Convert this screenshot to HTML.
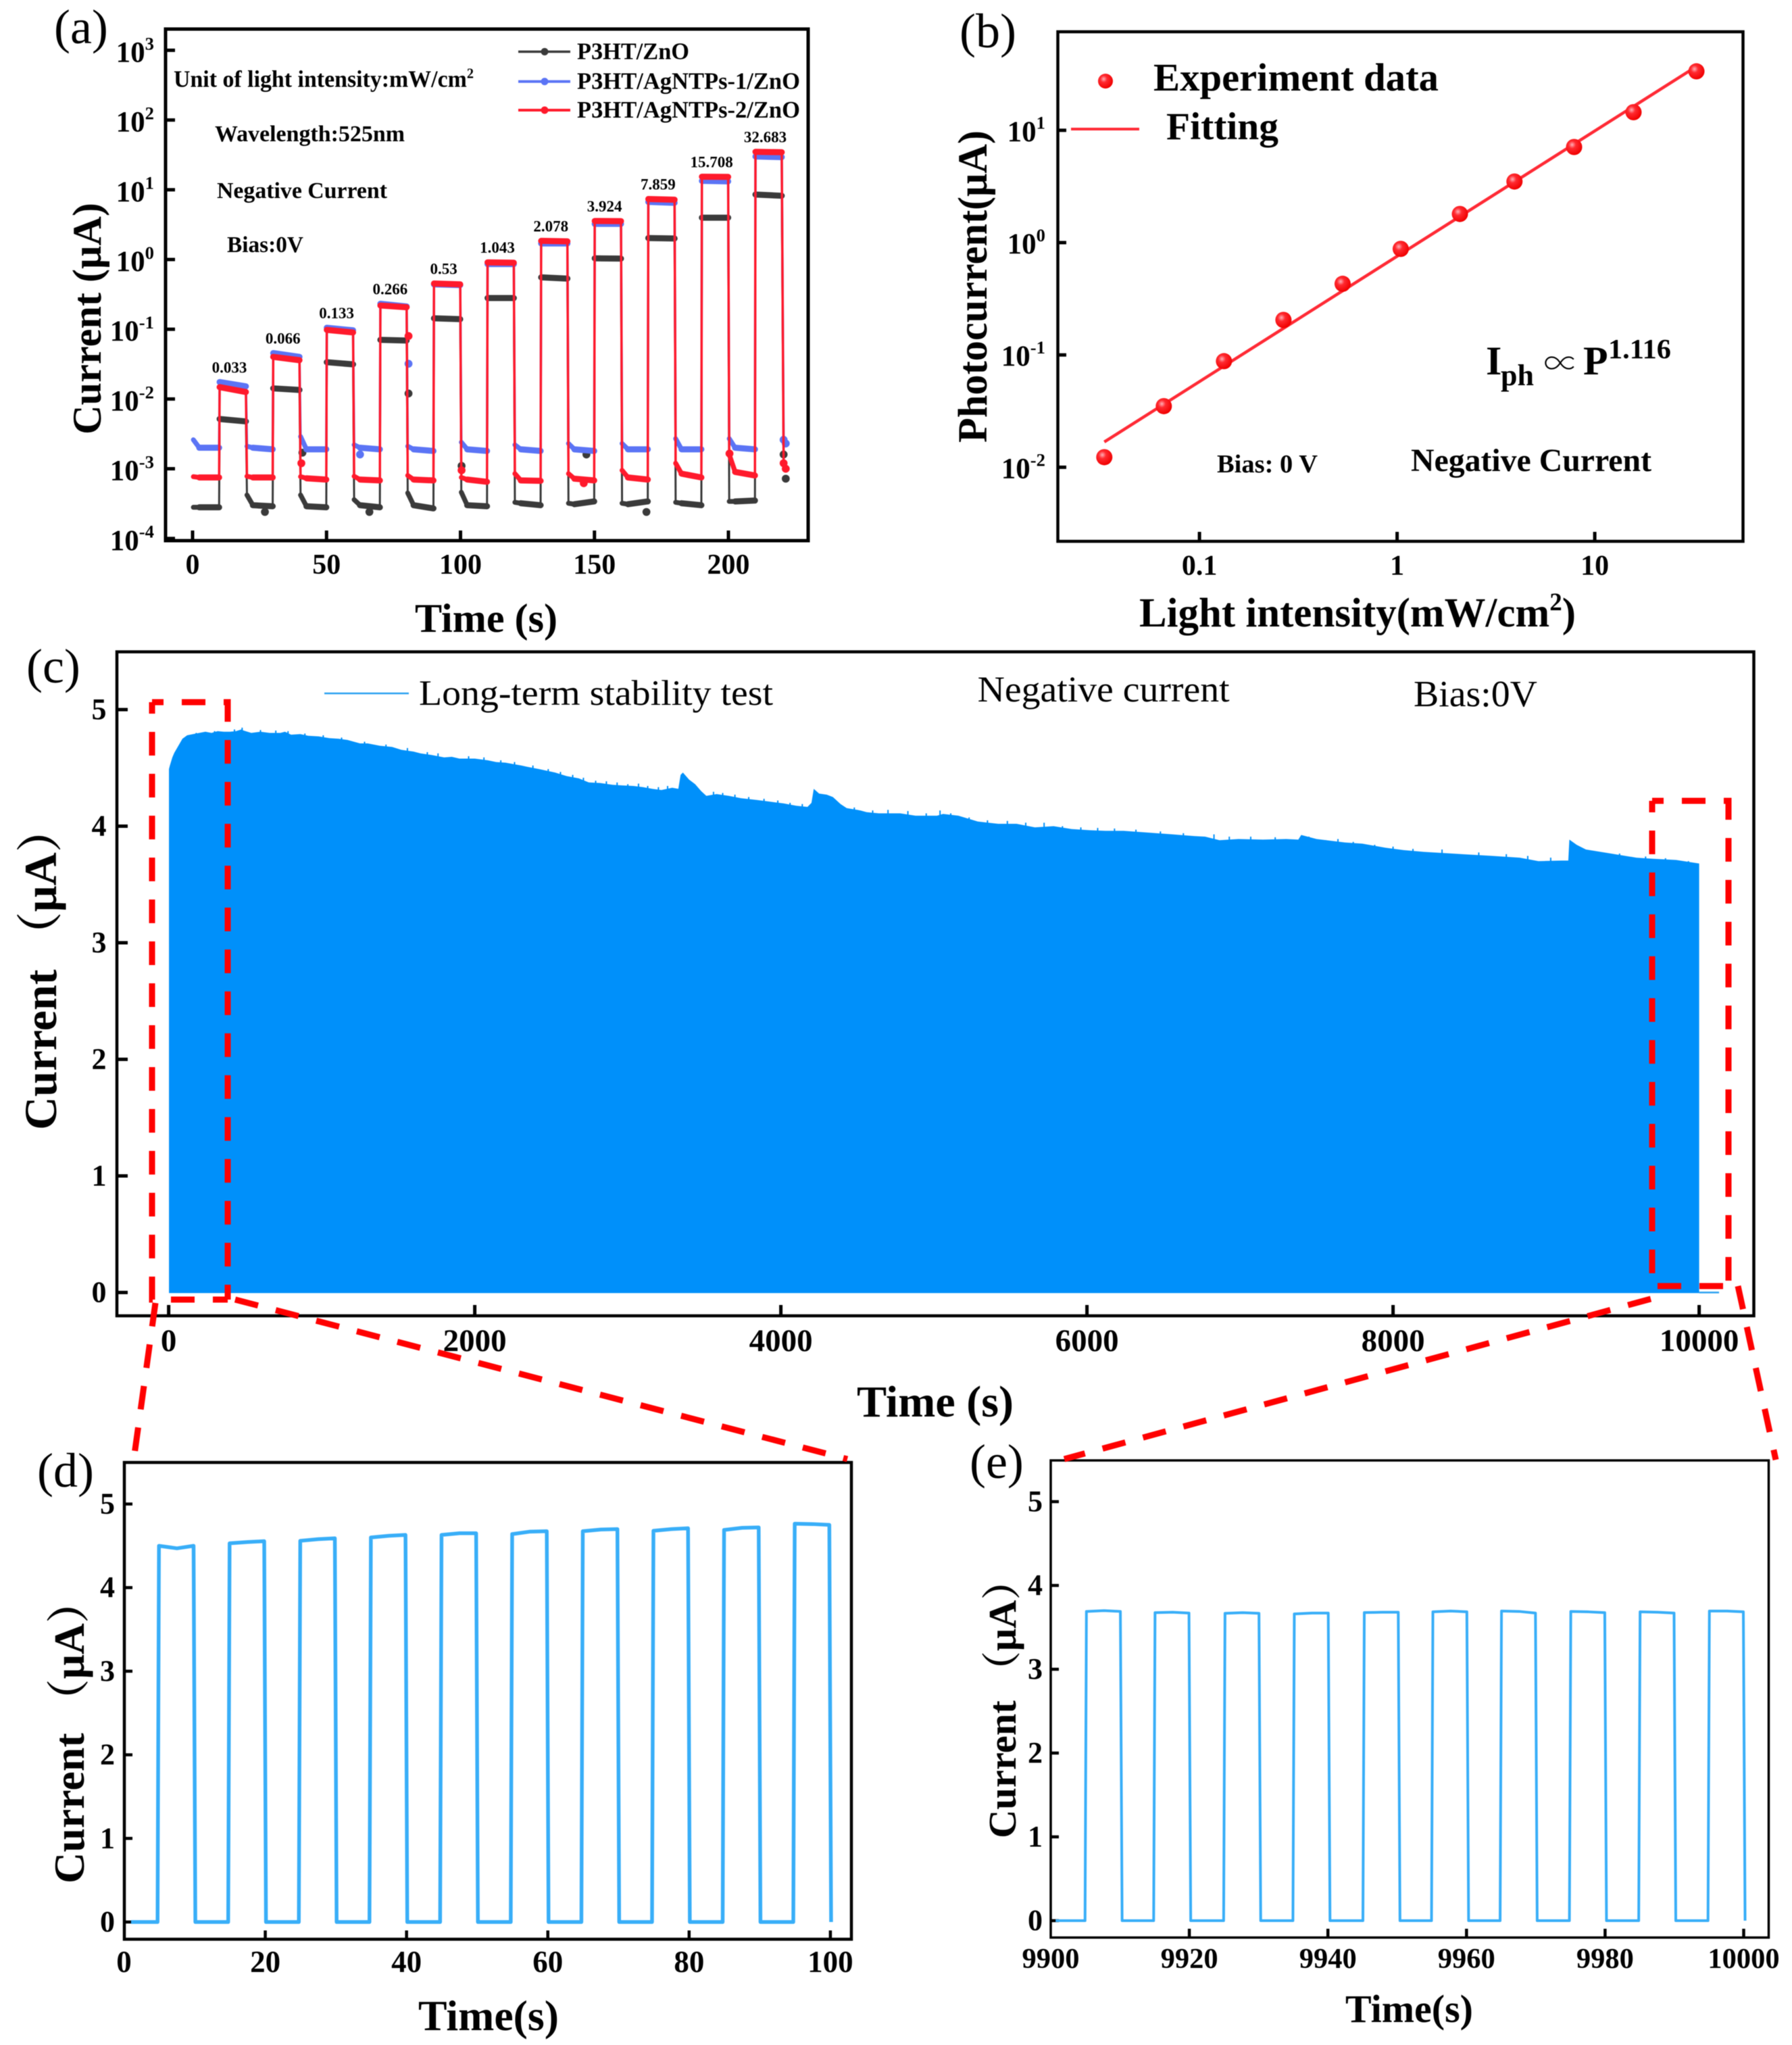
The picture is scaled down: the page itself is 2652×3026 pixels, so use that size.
<!DOCTYPE html>
<html lang="en">
<head>
<meta charset="utf-8">
<title>Photocurrent characterisation figure</title>
<style>
html,body{margin:0;padding:0;background:#fff;}
svg{display:block;filter:blur(0.5px);}
text{font-family:"Liberation Serif","Noto Serif CJK SC",serif;fill:#000;}
.b{font-weight:bold;}
</style>
</head>
<body>
<svg id="fig" xmlns="http://www.w3.org/2000/svg" width="2652" height="3026" viewBox="0 0 2652 3026">
<defs>
<radialGradient id="ball" cx="38%" cy="36%" r="65%">
<stop offset="0" stop-color="#ffb0b8"/>
<stop offset="0.35" stop-color="#ff2a30"/>
<stop offset="1" stop-color="#f00000"/>
</radialGradient>
</defs>
<rect x="0" y="0" width="2652" height="3026" fill="#fff"/>

<!-- Panel a -->
<g id="panelA">
<text x="80" y="64" font-size="72">(a)</text>
<g id="aSeries"></g>
<rect x="245" y="43" width="951" height="757" fill="none" stroke="#000" stroke-width="5"/>
<g id="aAxes"></g>
<text class="b" x="614" y="935" font-size="60" textLength="211" lengthAdjust="spacingAndGlyphs">Time (s)</text>
<text class="b" transform="translate(149,643) rotate(-90)" font-size="60" textLength="343" lengthAdjust="spacingAndGlyphs">Current (μA)</text>
<text class="b" x="257" y="128.6" font-size="35" textLength="444" lengthAdjust="spacingAndGlyphs">Unit of light intensity:mW/cm<tspan dy="-13" font-size="21">2</tspan></text>
<text class="b" x="318" y="209" font-size="33.7" textLength="281" lengthAdjust="spacingAndGlyphs">Wavelength:525nm</text>
<text class="b" x="321" y="293" font-size="33.8" textLength="252" lengthAdjust="spacingAndGlyphs">Negative Current</text>
<text class="b" x="336" y="373" font-size="33.3" textLength="113" lengthAdjust="spacingAndGlyphs">Bias:0V</text>
<g>
<line x1="767" y1="76.5" x2="844" y2="76.5" stroke="#3a3a3a" stroke-width="3.5"/>
<circle cx="806" cy="76.5" r="5.5" fill="#3a3a3a"/>
<text class="b" x="854" y="87.6" font-size="34.5" textLength="166" lengthAdjust="spacingAndGlyphs">P3HT/ZnO</text>
<line x1="767" y1="120.6" x2="844" y2="120.6" stroke="#5b74f5" stroke-width="4"/>
<circle cx="806" cy="120.6" r="5.5" fill="#5b74f5"/>
<text class="b" x="854" y="131.6" font-size="34.5" textLength="330" lengthAdjust="spacingAndGlyphs">P3HT/AgNTPs-1/ZnO</text>
<line x1="767" y1="163" x2="844" y2="163" stroke="#ff1a2c" stroke-width="4"/>
<circle cx="806" cy="163" r="5.5" fill="#ff1a2c"/>
<text class="b" x="854" y="174" font-size="34.5" textLength="330" lengthAdjust="spacingAndGlyphs">P3HT/AgNTPs-2/ZnO</text>
</g>
</g>

<!-- Panel b -->
<g id="panelB">
<text x="1420" y="70" font-size="72">(b)</text>
<rect x="1565.5" y="47" width="1014" height="754" fill="none" stroke="#000" stroke-width="4.5"/>
<g id="bAxes"></g>
<g id="bSeries"></g>
<text class="b" x="1686" y="927" font-size="61" textLength="646" lengthAdjust="spacingAndGlyphs">Light intensity(mW/cm<tspan dy="-24" font-size="37">2</tspan><tspan dy="24">)</tspan></text>
<text class="b" transform="translate(1460,655) rotate(-90)" font-size="61" textLength="462" lengthAdjust="spacingAndGlyphs">Photocurrent(μA)</text>
<circle cx="1636" cy="120" r="11" fill="url(#ball)"/>
<text class="b" x="1707" y="134" font-size="58.7" textLength="422" lengthAdjust="spacingAndGlyphs">Experiment data</text>
<line x1="1585" y1="191" x2="1686" y2="191" stroke="#ff2a35" stroke-width="4"/>
<text class="b" x="1726" y="206" font-size="57.5" textLength="166" lengthAdjust="spacingAndGlyphs">Fitting</text>
<g>
<text class="b" x="2199" y="554" font-size="60">I</text>
<text class="b" x="2221" y="570" font-size="44">ph</text>
<text class="b" x="2285" y="554" font-size="46">∝</text>
<text class="b" x="2343" y="554" font-size="60">P</text>
<text class="b" x="2380" y="530" font-size="41" textLength="93" lengthAdjust="spacingAndGlyphs">1.116</text>
</g>
<text class="b" x="1801" y="699" font-size="38" textLength="149" lengthAdjust="spacingAndGlyphs">Bias: 0 V</text>
<text class="b" x="2088" y="697" font-size="47.7" textLength="356" lengthAdjust="spacingAndGlyphs">Negative Current</text>
</g>

<!-- Panel c -->
<g id="panelC">
<text x="39" y="1010" font-size="72">(c)</text>
<g id="cSeries"></g>
<rect x="173" y="964.5" width="2422.5" height="982.5" fill="none" stroke="#000" stroke-width="4.5"/>
<g id="cAxes"></g>
<text class="b" x="1268" y="2096" font-size="66" textLength="232" lengthAdjust="spacingAndGlyphs">Time (s)</text>
<text class="b" transform="translate(83,1672) rotate(-90)" font-size="68" textLength="479" lengthAdjust="spacingAndGlyphs">Current （μA）</text>
<line x1="480" y1="1026" x2="605" y2="1026" stroke="#2aa0f0" stroke-width="2.5"/>
<text x="620" y="1043" font-size="52.4" textLength="524" lengthAdjust="spacingAndGlyphs">Long-term stability test</text>
<text x="1446.6" y="1038" font-size="53.5" textLength="373" lengthAdjust="spacingAndGlyphs">Negative current</text>
<text x="2092" y="1045" font-size="55" textLength="183" lengthAdjust="spacingAndGlyphs">Bias:0V</text>
</g>

<!-- Panel d -->
<g id="panelD">
<text x="55" y="2200" font-size="72">(d)</text>
<rect x="184" y="2164" width="1076" height="705.5" fill="none" stroke="#000" stroke-width="4.5"/>
<g id="dAxes"></g>
<g id="dSeries"></g>
<text class="b" x="619" y="3004" font-size="63.6" textLength="208" lengthAdjust="spacingAndGlyphs">Time(s)</text>
<text class="b" transform="translate(124,2787) rotate(-90)" font-size="63.7" textLength="449" lengthAdjust="spacingAndGlyphs">Current （μA）</text>
</g>

<!-- Panel e -->
<g id="panelE">
<text x="1435" y="2187" font-size="72">(e)</text>
<rect x="1555" y="2161" width="1062.5" height="706" fill="none" stroke="#000" stroke-width="3.5"/>
<g id="eAxes"></g>
<g id="eSeries"></g>
<text class="b" x="1991" y="2992" font-size="58" textLength="189" lengthAdjust="spacingAndGlyphs">Time(s)</text>
<text class="b" transform="translate(1503,2720) rotate(-90)" font-size="58.3" textLength="411" lengthAdjust="spacingAndGlyphs">Current （μA）</text>
</g>

<!-- Zoom callouts -->
<g fill="none" stroke="#ff0000" stroke-width="9" stroke-dasharray="35 27">
<path stroke-dashoffset="18" d="M225 1039H337V1923"/>
<path stroke-dashoffset="18" d="M225 1039V1923H337"/>
<path stroke-dashoffset="18" d="M2445 1185H2558V1903"/>
<path stroke-dashoffset="18" d="M2445 1185V1903H2558"/>
<path d="M230 1928L198 2159"/>
<path d="M348 1923L1254 2159"/>
<path d="M2443 1922L1575 2159"/>
<path d="M2572 1903L2628 2160"/>
</g>
</svg>

<script>
/* ---------- Panel a data ---------- */
const aOffStarts = [0,20,40,60,80,100,120,140,160,180,200];
const aOnStarts = [10,30,50,70,90,110,130,150,170,190,210];
const aYExponents = [3,2,1,0,-1,-2,-3,-4];
const aXTicks = [0,50,100,150,200];
const aIntensityLabels = ['0.033','0.066','0.133','0.266','0.53','1.043','2.078','3.924','7.859','15.708','32.683'];
const blackOn = [[0.00517,0.00477],[0.0142,0.0135],[0.0337,0.0314],[0.0705,0.069],[0.1435,0.1395],[0.28,0.28],[0.555,0.533],[1.04,1.03],[2.03,2.0],[3.98,3.98],[8.55,8.2]];
const blueOn = [[0.0175,0.0152],[0.0455,0.0402],[0.105,0.0966],[0.232,0.212],[0.44,0.43],[0.86,0.86],[1.7,1.7],[3.24,3.24],[6.7,6.5],[13.4,13.2],[30,29.4]];
const redOn = [[0.0148,0.0126],[0.0402,0.036],[0.098,0.09],[0.219,0.207],[0.453,0.44],[0.91,0.9],[1.85,1.82],[3.57,3.55],[7.36,7.2],[15.4,15.3],[35,34.5]];
const blackOff = [[0.00028,0.00028,0.00028],[0.00042,0.0003,0.00029],[0.00042,0.00029,0.00028],[0.00036,0.0003,0.00028],[0.00045,0.0003,0.00027],[0.00046,0.0003,0.00029],[0.00033,0.00032,0.0003],[0.00032,0.00031,0.00034],[0.00032,0.00031,0.00034],[0.00033,0.00032,0.0003],[0.00034,0.00034,0.00035]];
const blueOff = [[0.0026,0.002,0.002],[0.0021,0.002,0.0019],[0.0029,0.0019,0.0019],[0.0022,0.002,0.0019],[0.0021,0.0019,0.0018],[0.0024,0.0019,0.0018],[0.0022,0.0019,0.0018],[0.0023,0.0019,0.0018],[0.0023,0.0019,0.0019],[0.0027,0.0019,0.0019],[0.0027,0.002,0.0019]];
const redOff = [[0.00077,0.00075,0.00075],[0.00078,0.00075,0.00075],[0.00077,0.00073,0.0007],[0.00078,0.0007,0.00068],[0.0008,0.0007,0.00068],[0.00075,0.0007,0.00065],[0.00085,0.00068,0.00067],[0.00085,0.00072,0.00068],[0.00095,0.00075,0.0007],[0.0012,0.00085,0.00075],[0.0016,0.0009,0.0008]];
const aTailTimes = [220.6,221.4];
const blackTail = [0.0016,0.00072];
const blueTail = [0.0026,0.0023];
const redTail = [0.0012,0.001];
const blackStrayTimes = [27,41,66,80.6,100.4,147,169.4];
const blackStrayValues = [0.00024,0.0017,0.00024,0.012,0.0011,0.0016,0.00024];
const blueStrayTimes = [62.5,80.6];
const blueStrayValues = [0.0016,0.032];
const redStrayTimes = [40.6,80.6,100.4,146,200.4];
const redStrayValues = [0.0012,0.08,0.00095,0.00062,0.00165];

/* ---------- Panel b data ---------- */
const bIntensity = [0.033,0.066,0.133,0.266,0.53,1.043,2.078,3.924,7.859,15.708,32.683];
const bPhotocurrent = [0.0123,0.035,0.088,0.205,0.43,0.88,1.8,3.5,7.1,14.5,33.5];
const bFitX = [0.033,32.683];
const bFitY = [0.0168,37];
const bYExponents = [1,0,-1,-2];
const bXTicks = [0.1,1,10];
const bXTickLabels = ['0.1','1','10'];

/* ---------- Panel c data ---------- */
const cTimes = [2,8,24,37,68,90,121,160,200,240,280,320,360,400,440,475,490,540,600,660,730,760,800,860,912,980,1050,1110,1168,1250,1300,1380,1460,1520,1600,1645,1720,1800,1850,1900,2000,2085,2140,2200,2305,2340,2420,2525,2600,2680,2745,2820,2900,2960,3037,3100,3160,3220,3290,3330,3345,3360,3400,3440,3480,3513,3580,3660,3740,3844,3930,4020,4100,4174,4200,4215,4250,4300,4340,4390,4430,4520,4560,4640,4780,4880,5020,5060,5160,5287,5420,5540,5660,5782,5900,6020,6120,6239,6400,6560,6700,6772,6866,6990,7150,7300,7381,7400,7500,7686,7800,7950,8068,8200,8448,8650,8828,8950,9100,9145,9152,9200,9260,9400,9590,9700,9850,10000];
const cCurrents = [4.49,4.52,4.59,4.63,4.70,4.75,4.78,4.79,4.80,4.81,4.80,4.815,4.81,4.81,4.815,4.83,4.82,4.80,4.81,4.80,4.80,4.81,4.785,4.79,4.775,4.77,4.755,4.75,4.74,4.71,4.71,4.69,4.68,4.655,4.64,4.625,4.61,4.59,4.595,4.58,4.58,4.565,4.55,4.545,4.52,4.51,4.49,4.46,4.43,4.41,4.375,4.37,4.355,4.35,4.345,4.335,4.32,4.31,4.33,4.32,4.44,4.46,4.40,4.36,4.30,4.26,4.275,4.26,4.24,4.225,4.21,4.195,4.175,4.165,4.20,4.32,4.28,4.27,4.25,4.19,4.155,4.135,4.12,4.11,4.11,4.09,4.09,4.105,4.09,4.04,4.02,4.02,3.99,4.0,3.975,3.965,3.96,3.96,3.945,3.93,3.915,3.91,3.88,3.89,3.885,3.89,3.885,3.925,3.89,3.86,3.85,3.815,3.795,3.78,3.76,3.745,3.73,3.70,3.705,3.705,3.885,3.84,3.80,3.77,3.73,3.72,3.71,3.68];
const cSpikeTimes = [180,300,430,480,600,700,780,890,1010,1130,1280,1420,1560,1690,1760,1960,2060,2170,2260,2380,2480,2560,2640,2710,2790,2860,2930,3000,3070,3130,3200,3260,3560,3620,3700,3790,3890,3980,4060,4140,4480,4600,4700,4830,4950,5040,5110,5230,5350,5480,5600,5720,5840,5960,6070,6180,6320,6480,6630,6830,6930,7070,7230,7450,7560,7640,7740,7880,8000,8130,8320,8560,8740,8880,9030,9320,9480,9650,9780,9930];
const cSpikeCurrents = [4.80,4.815,4.83,4.845,4.825,4.82,4.815,4.795,4.78,4.76,4.725,4.70,4.67,4.635,4.625,4.60,4.59,4.565,4.55,4.52,4.49,4.465,4.44,4.415,4.39,4.385,4.375,4.36,4.365,4.345,4.335,4.345,4.295,4.285,4.27,4.25,4.235,4.22,4.20,4.19,4.16,4.135,4.14,4.13,4.11,4.135,4.11,4.075,4.05,4.045,4.03,4.03,4.0,3.99,3.985,3.98,3.97,3.955,3.94,3.93,3.91,3.91,3.905,3.91,3.88,3.89,3.865,3.84,3.825,3.805,3.80,3.775,3.76,3.745,3.73,3.785,3.765,3.74,3.725,3.70];
const cTailTimes = [10000,10130];
const cTailCurrents = [0,0];
const cXTicks = [0,2000,4000,6000,8000,10000];
const cYTicks = [0,1,2,3,4,5];

/* ---------- Panel d data ---------- */
const dPulseStarts = [5,15,25,35,45,55,65,75,85,95];
const dOnStart = [4.50,4.53,4.56,4.60,4.63,4.64,4.675,4.68,4.69,4.765];
const dOnMid = [4.47,4.545,4.58,4.62,4.65,4.67,4.695,4.70,4.715,4.76];
const dOnEnd = [4.50,4.555,4.59,4.63,4.65,4.675,4.70,4.71,4.72,4.75];
const dXTicks = [0,20,40,60,80,100];
const dYTicks = [0,1,2,3,4,5];

/* ---------- Panel e data ---------- */
const ePulseStarts = [9905.2,9915.1,9925.2,9935.2,9945.3,9955.2,9965.1,9975.1,9985.1,9995.1];
const eOnStart = [3.69,3.675,3.667,3.66,3.676,3.686,3.695,3.69,3.686,3.695];
const eOnMid = [3.70,3.68,3.675,3.67,3.68,3.695,3.69,3.685,3.68,3.695];
const eOnEnd = [3.69,3.67,3.667,3.67,3.68,3.686,3.67,3.675,3.67,3.686];
const eXTicks = [9900,9920,9940,9960,9980,10000];
const eYTicks = [0,1,2,3,4,5];

/* ---------- axis functions ---------- */
const NS = 'http://www.w3.org/2000/svg';
const xA = t => 285 + 3.965 * t;
const yA = v => 384 - 103.2 * Math.log10(v);
const xB = p => 2067.6 + 292.5 * Math.log10(p);
const yB = v => 359 - 166.2 * Math.log10(v);
const xC = t => 249.6 + 0.2265 * t;
const yC = v => 1912.5 - 172.5 * v;
const xD = t => 183.5 + 10.454 * t;
const yD = v => 2844 - 123.7 * v;
const xE = t => 1555 + 10.255 * (t - 9900);
const yE = v => 2842 - 124 * v;

function line(parent, x1, y1, x2, y2, w, name, color) {
  const el = document.createElementNS(NS, 'line');
  el.setAttribute('x1', x1); el.setAttribute('y1', y1);
  el.setAttribute('x2', x2); el.setAttribute('y2', y2);
  el.setAttribute('stroke', color || '#000'); el.setAttribute('stroke-width', w);
  
  
  parent.appendChild(el);
}
function label(parent, x, y, size, txt, anchor, name) {
  const el = document.createElementNS(NS, 'text');
  el.setAttribute('x', x); el.setAttribute('y', y);
  el.setAttribute('font-size', size);
  el.setAttribute('font-weight', 'bold');
  el.setAttribute('text-anchor', anchor);
  el.textContent = txt;
  
  
  parent.appendChild(el);
  return el;
}
function logLabel(parent, xRight, y, size, exp, name) {
  const el = label(parent, xRight, y, size, '10', 'end', name);
  const sup = document.createElementNS(NS, 'tspan');
  sup.setAttribute('dy', -size * 0.42);
  sup.setAttribute('font-size', size * 0.62);
  sup.textContent = String(exp);
  
  
  el.appendChild(sup);
}
function poly(parent, pts, color, w, name, cap) {
  const el = document.createElementNS(NS, 'polyline');
  el.setAttribute('points', pts.map(p => p[0].toFixed(2) + ',' + p[1].toFixed(2)).join(' '));
  el.setAttribute('fill', 'none');
  el.setAttribute('stroke', color);
  el.setAttribute('stroke-width', w);
  el.setAttribute('stroke-linejoin', 'round');
  el.setAttribute('stroke-linecap', cap || 'butt');
  
  
  parent.appendChild(el);
}
function dot(parent, cx, cy, r, color, name) {
  const el = document.createElementNS(NS, 'circle');
  el.setAttribute('cx', cx);
  el.setAttribute('cy', cy);
  el.setAttribute('r', r);
  el.setAttribute('fill', color);
  
  
  parent.appendChild(el);
}

/* ---------- Panel a ---------- */
(function () {
  const ax = document.getElementById('aAxes');
  const sg = document.getElementById('aSeries');
  aYExponents.forEach(e => {
    const y = yA(Math.pow(10, e));
    line(ax, 245, y, 259, y, 5, 'y-tick-a');
    logLabel(ax, 228, y + 17, 43, e, 'y-tick-label-a');
  });
  aXTicks.forEach(t => {
    line(ax, xA(t), 800, xA(t), 785, 5, 'x-tick-a');
    label(ax, xA(t), 849, 42, String(t), 'middle', 'x-tick-label-a');
  });
  function drawSeries(off, on, tail, strayT, strayV, color, thick, thin, name) {
    const all = [];
    aOffStarts.forEach((t0, i) => {
      all.push([xA(t0 + 0.3), yA(off[i][0])], [xA(t0 + 2.5), yA(off[i][1])], [xA(t0 + 9.9), yA(off[i][2])]);
      all.push([xA(aOnStarts[i] + 0.1), yA(on[i][0])], [xA(aOnStarts[i] + 9.9), yA(on[i][1])]);
    });
    all.push([xA(aTailTimes[0]), yA(tail[0])]);
    poly(sg, all, color, thin, name + '-trace');
    aOffStarts.forEach((t0, i) => {
      poly(sg, [[xA(t0 + 0.3), yA(off[i][0])], [xA(t0 + 2.5), yA(off[i][1])]], color, thick * 0.8, name + '-dark-decay', 'round');
      poly(sg, [[xA(t0 + 2.5), yA(off[i][1])], [xA(t0 + 9.9), yA(off[i][2])]], color, thick, name + '-dark-plateau', 'round');
      poly(sg, [[xA(aOnStarts[i] + 0.1), yA(on[i][0])], [xA(aOnStarts[i] + 9.9), yA(on[i][1])]], color, thick, name + '-light-plateau', 'round');
    });
    aTailTimes.forEach((t, i) => dot(sg, xA(t), yA(tail[i]), thick * 0.65, color, name + '-tail-point'));
    strayT.forEach((t, i) => dot(sg, xA(t), yA(strayV[i]), thick * 0.65, color, name + '-stray-point'));
  }
  drawSeries(blackOff, blackOn, blackTail, blackStrayTimes, blackStrayValues, '#3a3a3a', 9, 3, 'p3ht-zno');
  drawSeries(blueOff, blueOn, blueTail, blueStrayTimes, blueStrayValues, '#5b74f5', 9, 3.5, 'agntps-1');
  drawSeries(redOff, redOn, redTail, redStrayTimes, redStrayValues, '#ff1a2c', 9, 3.5, 'agntps-2');
  aIntensityLabels.forEach((txt, i) => {
    const top = Math.max(blueOn[i][0], redOn[i][0]);
    label(ax, xA(aOnStarts[i] + 5) - 5, yA(top) - 14, 23, txt, 'middle', 'intensity-label');
  });
})();

/* ---------- Panel b ---------- */
(function () {
  const ax = document.getElementById('bAxes');
  const sg = document.getElementById('bSeries');
  bYExponents.forEach(e => {
    const y = yB(Math.pow(10, e));
    line(ax, 1565.5, y, 1578, y, 5, 'y-tick-b');
    logLabel(ax, 1547, y + 16, 43, e, 'y-tick-label-b');
  });
  bXTicks.forEach((p, i) => {
    line(ax, xB(p), 801, xB(p), 787, 5, 'x-tick-b');
    label(ax, xB(p), 850.7, 42, bXTickLabels[i], 'middle', 'x-tick-label-b');
  });
  poly(sg, bFitX.map((p, i) => [xB(p), yB(bFitY[i])]), '#ff2a35', 4.5, 'fitting-line');
  bIntensity.forEach((p, i) => {
    const c = document.createElementNS(NS, 'circle');
    c.setAttribute('cx', xB(p));
    c.setAttribute('cy', yB(bPhotocurrent[i]));
    c.setAttribute('r', 12);
    c.setAttribute('fill', 'url(#ball)');
    
    
    sg.appendChild(c);
  });
})();

/* ---------- Panel c ---------- */
(function () {
  const ax = document.getElementById('cAxes');
  const sg = document.getElementById('cSeries');
  const area = document.createElementNS(NS, 'path');
  let d = 'M' + xC(cTimes[0]).toFixed(1) + ' ' + yC(-0.005).toFixed(1);
  cTimes.forEach((t, i) => { d += 'L' + xC(t).toFixed(2) + ' ' + yC(cCurrents[i]).toFixed(2); });
  d += 'L' + xC(cTimes[cTimes.length - 1]).toFixed(1) + ' ' + yC(-0.005).toFixed(1) + 'Z';
  area.setAttribute('d', d);
  area.setAttribute('fill', '#0090fa');
  
  
  sg.appendChild(area);
  cSpikeTimes.forEach((t, i) => {
    line(sg, xC(t), yC(3.4), xC(t), yC(cSpikeCurrents[i]), 2, 'stability-current-peak', '#0090fa');
  });
  poly(sg, cTailTimes.map((t, i) => [xC(t), yC(cTailCurrents[i])]), '#2aa0f0', 2.5, 'stability-current-tail');
  cYTicks.forEach(v => {
    line(ax, 173, yC(v), 189, yC(v), 5, 'y-tick-c');
    label(ax, 157.5, yC(v) + 14, 44, String(v), 'end', 'y-tick-label-c');
  });
  cXTicks.forEach(t => {
    line(ax, xC(t), 1947, xC(t), 1931, 5, 'x-tick-c');
    label(ax, xC(t), 1999, 47, String(t), 'middle', 'x-tick-label-c');
  });
})();

/* ---------- Panels d and e ---------- */
function pulsePanel(cfg) {
  const ax = document.getElementById(cfg.axes);
  const sg = document.getElementById(cfg.series);
  cfg.yTicks.forEach(v => {
    line(ax, cfg.left, cfg.y(v), cfg.left + 12, cfg.y(v), 4.5, 'y-tick-' + cfg.id);
    label(ax, cfg.labelRight, cfg.y(v) + 14, 44, String(v), 'end', 'y-tick-label-' + cfg.id);
  });
  cfg.xTicks.forEach(t => {
    if (cfg.x(t) > cfg.left + 1) line(ax, cfg.x(t), cfg.bottom, cfg.x(t), cfg.bottom - 13, 4.5, 'x-tick-' + cfg.id);
    label(ax, cfg.x(t), cfg.xLabelY, cfg.xFont, String(t), 'middle', 'x-tick-label-' + cfg.id);
  });
  const pts = [[cfg.x(cfg.tStart), cfg.y(0)]];
  cfg.starts.forEach((t0, i) => {
    pts.push([cfg.x(t0 - 0.25), cfg.y(0)]);
    pts.push([cfg.x(t0 - 0.05), cfg.y(cfg.onStart[i])]);
    pts.push([cfg.x(t0 + 2.5), cfg.y(cfg.onMid[i])]);
    pts.push([cfg.x(t0 + 4.85), cfg.y(cfg.onEnd[i])]);
    pts.push([cfg.x(t0 + 5.1), cfg.y(0)]);
  });
  poly(sg, pts, '#38aef8', cfg.lw, 'current-pulse-trace-' + cfg.id);
}
pulsePanel({id:'d', axes:'dAxes', series:'dSeries', x:xD, y:yD, left:184, bottom:2869.5, labelRight:170, xLabelY:2918, xFont:45, xTicks:dXTicks, yTicks:dYTicks, starts:dPulseStarts, onStart:dOnStart, onMid:dOnMid, onEnd:dOnEnd, tStart:1, lw:5.5});
pulsePanel({id:'e', axes:'eAxes', series:'eSeries', x:xE, y:yE, left:1555, bottom:2867, labelRight:1543, xLabelY:2912, xFont:42.5, xTicks:eXTicks, yTicks:eYTicks, starts:ePulseStarts, onStart:eOnStart, onMid:eOnMid, onEnd:eOnEnd, tStart:9900.7, lw:4});
</script>
</body>
</html>
